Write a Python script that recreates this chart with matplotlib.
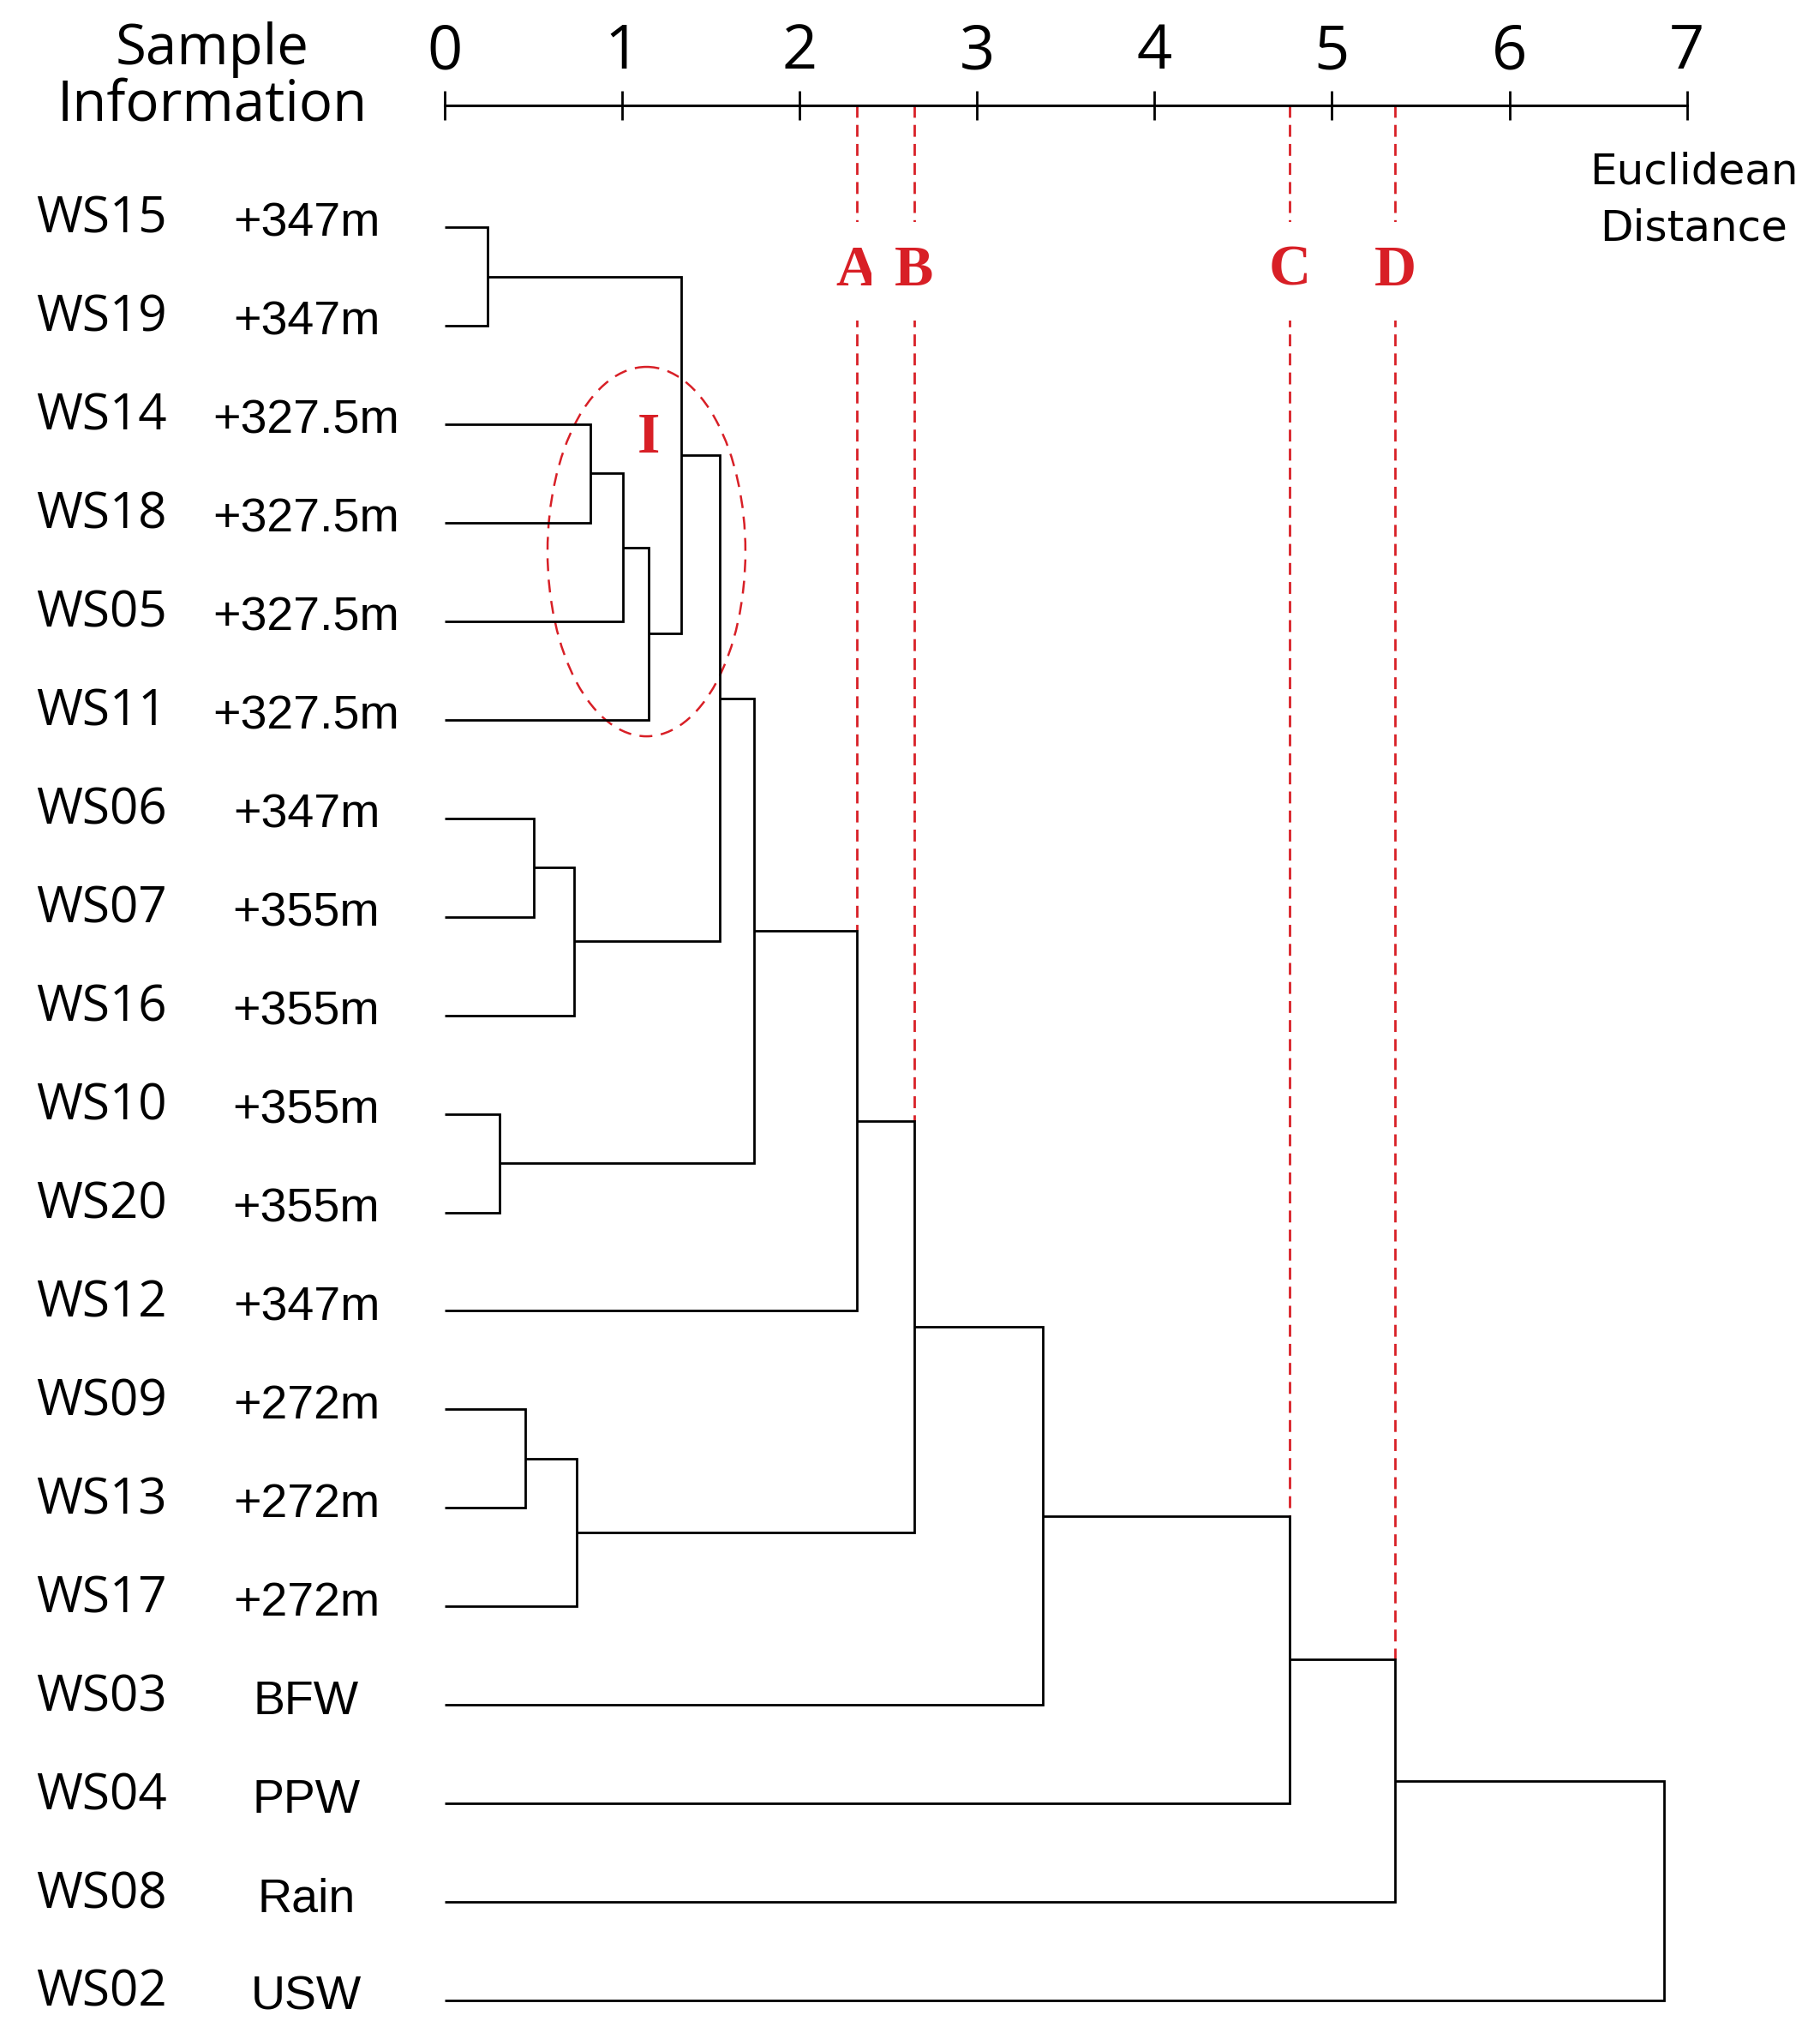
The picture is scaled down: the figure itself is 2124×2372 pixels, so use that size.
import matplotlib
matplotlib.use('Agg')
import matplotlib.pyplot as plt
from matplotlib.patches import Ellipse

# leaves in display order (top to bottom)
sample_ids = ['WS15', 'WS19', 'WS14', 'WS18', 'WS05', 'WS11', 'WS06', 'WS07', 'WS16',
              'WS10', 'WS20', 'WS12', 'WS09', 'WS13', 'WS17', 'WS03', 'WS04', 'WS08', 'WS02']
sample_info = ['+347m', '+347m', '+327.5m', '+327.5m', '+327.5m', '+327.5m', '+347m', '+355m',
               '+355m', '+355m', '+355m', '+347m', '+272m', '+272m', '+272m', 'BFW', 'PPW',
               'Rain', 'USW']

# agglomeration steps: clusters get ids 19, 20, ... in this order
merge_left = [0, 2, 20, 21, 19, 6, 24, 23, 9, 26, 28, 12, 30, 29, 32, 33, 34, 35]
merge_right = [1, 3, 4, 5, 22, 7, 8, 25, 10, 27, 11, 13, 14, 31, 15, 16, 17, 18]
merge_dist = [0.24, 0.82, 1.005, 1.15, 1.335, 0.503, 0.73, 1.55, 0.31, 1.745, 2.323,
              0.453, 0.742, 2.645, 3.371, 4.761, 5.357, 6.873]

# cut levels marked with red dashed lines
cut_labels = ['A', 'B', 'C', 'D']
cut_nodes = [29, 32, 34, 35]

axis_ticks = [0, 1, 2, 3, 4, 5, 6, 7]
header_lines = ['Sample', 'Information']
distance_lines = ['Euclidean', 'Distance']

red = '#d81f26'
n = len(sample_ids)

fig = plt.figure(figsize=(21.24, 23.72), dpi=100)
ax = fig.add_axes([0, 0, 1, 1])
ax.set_xlim(-2.506, 7.750)
ax.set_ylim(18.33, -2.306)
ax.axis('off')

# dendrogram
node_x = {i: 0.0 for i in range(n)}
node_y = {i: float(i) for i in range(n)}
node_top = {}
for k, (a, b, d) in enumerate(zip(merge_left, merge_right, merge_dist)):
    cid = n + k
    ya, yb = node_y[a], node_y[b]
    ax.plot([node_x[a], d, d, node_x[b]], [ya, ya, yb, yb], color='black', lw=2.0,
            solid_joinstyle='miter', solid_capstyle='butt', zorder=3)
    node_x[cid] = d
    node_y[cid] = (ya + yb) / 2
    node_top[cid] = min(ya, yb)

# distance axis on top
axis_y = -1.235
ax.plot([axis_ticks[0], axis_ticks[-1]], [axis_y, axis_y], color='black', lw=2.2, zorder=3)
ax.vlines(axis_ticks, axis_y - 0.148, axis_y + 0.148, color='black', lw=2.0, zorder=3)
for t in axis_ticks:
    ax.text(t, -1.61, str(t), ha='center', va='baseline', fontsize=52, family='Open Sans')

for line, yb in zip(header_lines, [-1.653, -1.088]):
    ax.text(-1.309, yb, line, ha='center', va='baseline', fontsize=47, family='Open Sans')
for line, yb in zip(distance_lines, [-0.444, 0.13]):
    ax.text(7.04, yb, line, ha='center', va='baseline', fontsize=36, family='DejaVu Sans')

# leaf labels
for i, (sid, info) in enumerate(zip(sample_ids, sample_info)):
    ax.text(-2.303, i + 0.06, sid, ha='left', va='baseline', fontsize=42, family='Open Sans')
    ax.text(-0.78, i + 0.095, info, ha='center', va='baseline', fontsize=40,
            family='Liberation Sans')

# cut lines A-D
for lab, node in zip(cut_labels, cut_nodes):
    d = node_x[node]
    ax.plot([d, d], [axis_y, node_top[node]], color=red, lw=2.0, ls=(0, (5, 3)), zorder=2)
    ax.text(d, 0.59, lab, ha='center', va='baseline', fontsize=49, color=red,
            family='Liberation Serif', fontweight='bold', zorder=4,
            bbox=dict(boxstyle='square,pad=0.4', fc='white', ec='none'))

# group I
ax.add_patch(Ellipse((1.137, 3.293), 1.115, 3.75, fill=False, ec=red, lw=1.8,
                     ls=(0, (6, 4)), zorder=2))
ax.text(1.149, 2.288, 'I', ha='center', va='baseline', fontsize=49, color=red,
        family='Liberation Serif', fontweight='bold')

fig.savefig('out.png', dpi=100, facecolor='white')
